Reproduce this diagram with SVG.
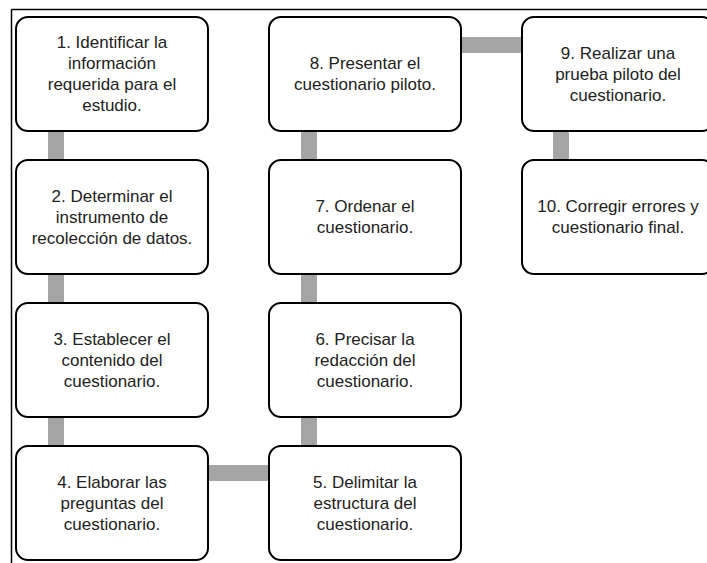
<svg xmlns="http://www.w3.org/2000/svg" width="707" height="563" viewBox="0 0 707 563">
<style>
.box{fill:#fff;stroke:#000;stroke-width:2}
.con{fill:#a5a5a5}
text{font-family:"Liberation Sans",Arial,sans-serif;font-size:17px;fill:#222;text-anchor:middle}
</style>
<rect width="707" height="563" fill="#fff"/>
<g id="frame" fill="none" stroke="#000" stroke-width="1.5">
<line x1="11.5" y1="9.5" x2="707" y2="9.5"/>
<line x1="11.5" y1="9.5" x2="11.5" y2="563"/>
</g>
<g id="connectors">
<rect class="con" x="48" y="130" width="16" height="32"/>
<rect class="con" x="48" y="273" width="16" height="32"/>
<rect class="con" x="48" y="416" width="16" height="32"/>
<rect class="con" x="207" y="465" width="63" height="16"/>
<rect class="con" x="301" y="416" width="16" height="32"/>
<rect class="con" x="301" y="273" width="16" height="32"/>
<rect class="con" x="301" y="130" width="16" height="32"/>
<rect class="con" x="460" y="37" width="63" height="16"/>
<rect class="con" x="553" y="130" width="16" height="32"/>
</g>
<g id="n1"><rect class="box" x="16" y="17" width="192" height="114" rx="12"/>
<text x="112" y="48">1. Identificar la</text><text x="112" y="69">información</text><text x="112" y="90">requerida para el</text><text x="112" y="111">estudio.</text></g>
<g id="n2"><rect class="box" x="16" y="160" width="192" height="114" rx="12"/>
<text x="112" y="201.5">2. Determinar el</text><text x="112" y="222.5">instrumento de</text><text x="112" y="243.5">recolección de datos.</text></g>
<g id="n3"><rect class="box" x="16" y="303" width="192" height="114" rx="12"/>
<text x="112" y="344.5">3. Establecer el</text><text x="112" y="365.5">contenido del</text><text x="112" y="386.5">cuestionario.</text></g>
<g id="n4"><rect class="box" x="16" y="446" width="192" height="114" rx="12"/>
<text x="112" y="487.5">4. Elaborar las</text><text x="112" y="508.5">preguntas del</text><text x="112" y="529.5">cuestionario.</text></g>
<g id="n5"><rect class="box" x="269" y="446" width="192" height="114" rx="12"/>
<text x="365" y="487.5">5. Delimitar la</text><text x="365" y="508.5">estructura del</text><text x="365" y="529.5">cuestionario.</text></g>
<g id="n6"><rect class="box" x="269" y="303" width="192" height="114" rx="12"/>
<text x="365" y="344.5">6. Precisar la</text><text x="365" y="365.5">redacción del</text><text x="365" y="386.5">cuestionario.</text></g>
<g id="n7"><rect class="box" x="269" y="160" width="192" height="114" rx="12"/>
<text x="365" y="212">7. Ordenar el</text><text x="365" y="233">cuestionario.</text></g>
<g id="n8"><rect class="box" x="269" y="17" width="192" height="114" rx="12"/>
<text x="365" y="69">8. Presentar el</text><text x="365" y="90">cuestionario piloto.</text></g>
<g id="n9"><rect class="box" x="522" y="17" width="192" height="114" rx="12"/>
<text x="618" y="58.5">9. Realizar una</text><text x="618" y="79.5">prueba piloto del</text><text x="618" y="100.5">cuestionario.</text></g>
<g id="n10"><rect class="box" x="522" y="160" width="192" height="114" rx="12"/>
<text x="618" y="212">10. Corregir errores y</text><text x="618" y="233">cuestionario final.</text></g>
</svg>
